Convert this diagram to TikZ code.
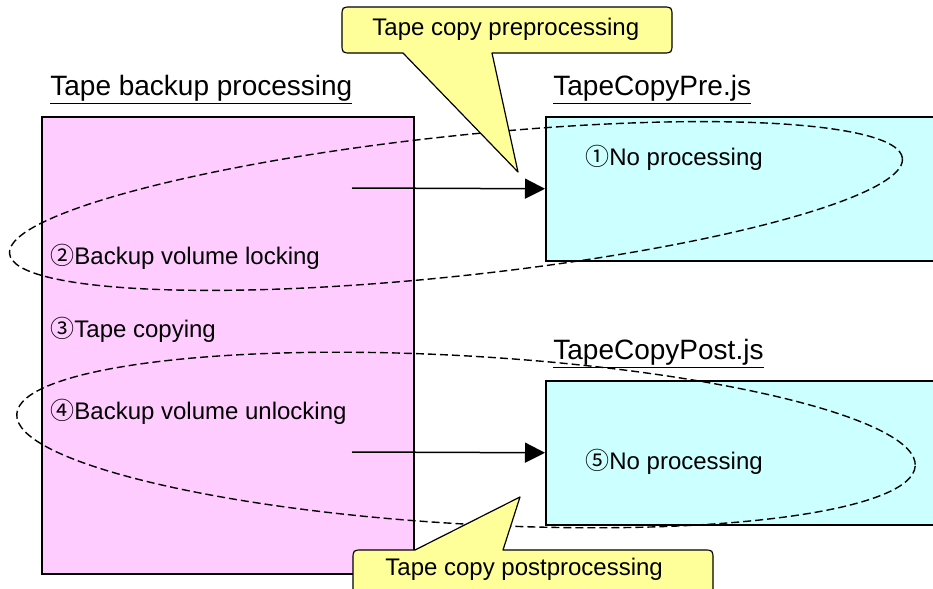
\documentclass[tikz,border=0pt]{standalone}
\usepackage{fontspec}
\setmainfont{Liberation Sans}
\newfontfamily\circfont{Noto Sans CJK JP}
\usetikzlibrary{arrows.meta}
\definecolor{boxpink}{RGB}{255,204,255}
\definecolor{boxcyan}{RGB}{204,255,255}
\definecolor{noteyellow}{RGB}{255,255,153}
\newcommand{\cnum}[1]{{\circfont #1}}

\begin{document}
\begin{tikzpicture}[x=0.5pt, y=-0.5pt,
  panel/.style={draw, line width=0.75pt, anchor=north west, inner sep=0pt},
  txt/.style={anchor=base west, inner sep=0pt, font=\fontsize{12}{14}\selectfont},
  head/.style={anchor=base west, inner sep=0pt, font=\fontsize{14}{16}\selectfont},
  scopeline/.style={dash pattern=on 4pt off 2pt, line width=0.7pt},
  flow/.style={-{Triangle[length=10pt,width=10pt]}, line width=0.75pt},
  note/.style={draw, fill=noteyellow, line width=0.6pt, line join=round}]
  \useasboundingbox (0,0) rectangle (933,589);
  \clip (0,0) rectangle (933,589);
  \node[panel, fill=boxpink, minimum width=186pt, minimum height=228.5pt] (backup) at (41,116) {};
  \node[panel, fill=boxcyan, minimum width=200pt, minimum height=72pt] (pre) at (545,116) {};
  \node[panel, fill=boxcyan, minimum width=200pt, minimum height=72pt] (post) at (545,380) {};
  \node[head] (backuphead) at (50,95) {\underline{Tape backup processing}};
  \node[head] (prehead) at (553,95) {\underline{TapeCopyPre.js}};
  \node[head] (posthead) at (553,359) {\underline{TapeCopyPost.js}};
  \draw[scopeline, rotate around={6.1:(456,206)}] (456,206) ellipse [x radius=449, y radius=70];
  \draw[scopeline, rotate around={-3.3:(466,440)}] (466,440) ellipse [x radius=450, y radius=84];
  \coordinate (preout) at (352,188);
  \coordinate (postout) at (352,452);
  \draw[flow] (preout) -- (pre.west);
  \draw[flow] (postout) -- (post.west);
  \node[txt] (lock) at (50,264) {\cnum{②}Backup volume locking};
  \node[txt] (copy) at (50,337) {\cnum{③}Tape copying};
  \node[txt] (unlock) at (50,419) {\cnum{④}Backup volume unlocking};
  \node[txt] (prenone) at (585,165) {\cnum{①}No processing};
  \node[txt] (postnone) at (585,469) {\cnum{⑤}No processing};
  \coordinate (pretip) at (518,172);
  \coordinate (posttip) at (520,497);
  \draw[note] (403,53) -- (pretip) -- (492,53) -- (662,53) .. controls (672,53) .. (672,43)
    -- (672,17) .. controls (672,7) .. (662,7) -- (352,7) .. controls (342,7) .. (342,17)
    -- (342,43) .. controls (342,53) .. (352,53) -- cycle;
  \draw[note] (415,550) -- (posttip) -- (503,550) -- (703,550) .. controls (713,550) .. (713,560)
    -- (713,605) -- (353,605) -- (353,560) .. controls (353,550) .. (363,550) -- cycle;
  \node[txt] (prenote) at (372,35) {Tape copy preprocessing};
  \node[txt] (postnote) at (385,575) {Tape copy postprocessing};
\end{tikzpicture}
\end{document}
